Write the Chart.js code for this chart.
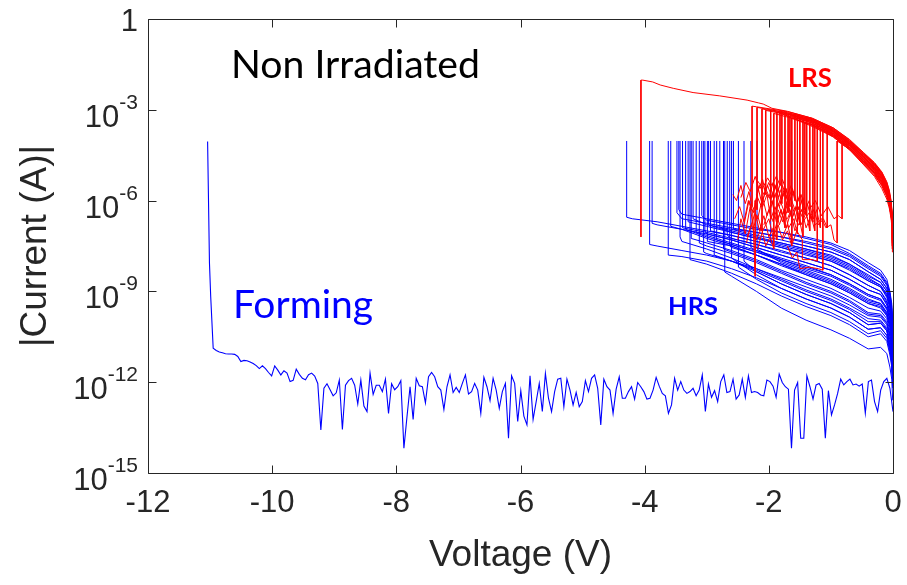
<!DOCTYPE html>
<html>
<head>
<meta charset="utf-8">
<script src="https://cdn.jsdelivr.net/npm/chart.js@4.4.1/dist/chart.umd.min.js"></script>
<style>
  html, body { margin: 0; padding: 0; background: #fff; }
  #wrap { width: 907px; height: 585px; }
</style>
</head>
<body>
<div id="wrap"><canvas id="chart" width="907" height="585"></canvas></div>
<script>
// all currents are stored as log10(|I|), voltages in V

// axis ticks
const xTicks = [-12, -10, -8, -6, -4, -2, 0];
const yTickExp = [0, -3, -6, -9, -12, -15];

// forming sweep: steep start, then a regular sweep grid from -10.95 V to 0 V
const formingHead = [[-11.04, -4.05], [-11.01, -8.06], [-10.99, -9.17]];
const formingStartV = -10.95;
const formingEndV = 0;
const formingLogI = [
  -10.88,-10.95,-11.00,-11.03,-11.06,-11.07,-11.07,-11.08,-11.15,-11.32,
  -11.28,-11.29,-11.33,-11.38,-11.45,-11.55,-11.46,-11.55,-11.68,-11.79,
  -11.46,-11.60,-11.76,-11.62,-11.70,-11.98,-11.94,-11.57,-11.74,-11.87,
  -11.92,-11.75,-11.70,-11.80,-12.04,-13.58,-12.20,-12.05,-12.25,-12.45,
  -12.35,-11.93,-13.56,-12.10,-11.95,-11.87,-12.10,-12.72,-11.93,-12.79,
  -12.97,-11.70,-12.40,-12.10,-12.10,-12.31,-11.90,-13.03,-12.05,-12.25,
  -12.15,-11.95,
  -14.18,-13.14,-12.15,-13.23,-11.87,-12.12,-12.15,-12.68,-11.82,-11.68,
  -11.82,-12.15,-12.26,-12.90,-12.15,-11.76,-12.34,-12.17,-12.34,-12.04,
  -11.76,-12.39,-12.31,-12.04,-12.26,-13.03,-11.84,-12.15,-12.61,-11.87,
  -12.26,-12.86,-12.31,-12.04,-13.85,-11.79,-12.04,-13.30,-12.28,-13.12,
  -13.41,-11.79,-13.23,-12.64,-12.04,-12.97,-11.71,-12.53,-12.97,-12.31,
  -11.90,-11.87,-12.81,-11.90,-12.26,-12.75,-12.34,-12.81,-12.64,-11.95,
  -12.31,-11.87,-11.76,-12.20,-13.41,
  -11.90,-12.15,-12.26,-13.03,-12.23,-11.82,-12.53,-12.53,-12.31,-12.15,
  -12.56,-12.01,-12.15,-12.31,-12.56,-12.53,-12.26,-11.84,-12.13,-12.37,
  -12.45,-13.03,-12.75,-11.87,-12.26,-11.98,-12.26,-12.37,-12.31,-12.20,
  -12.45,-12.26,-11.76,-12.97,-12.06,-12.50,-12.28,-12.64,-11.98,-11.76,
  -12.34,-12.31,-11.90,-12.56,-12.42,-11.90,-12.50,-11.79,-12.34,-12.31,
  -12.34,-12.42,-12.45,-11.93,-11.98,-12.13,-12.50,-11.73,-12.01,-12.15,
  -12.23,-14.18,-12.26,-12.01,-13.85,-13.85,-11.79,-12.15,-12.56,-12.09,
  -12.04,-12.23,-13.85,-12.28,-13.08,-12.75,-12.37,-11.90,-12.09,-11.98,
  -11.90,-12.09,-12.06,-12.13,-12.06,-13.03,-11.98,-11.93,-12.64,-12.97,
  -12.26,-11.98,-11.87,-12.20,-12.97
];

// HRS sweeps (0 V -> set voltage, then jump to compliance)
const complianceLog = -4.03;
const hrsGridV = [-0.005,-0.02,-0.05,-0.1,-0.2,-0.4,-0.7,-1.0,-1.4,-1.8,-2.2,-2.6,-3.0,-3.4,-3.8,-4.2];
const hrsSetV = [-4.29,-3.88,-3.58,-3.48,-3.43,-3.39,-3.34,-3.30,-3.25,-3.22,-3.17,-3.12,-3.08,-3.03,-2.99,
                 -2.94,-2.88,-2.84,-2.79,-2.73,-2.71,-2.67,-2.63,-2.57,-2.49,-2.29,-2.19,-1.97,-1.63,-2.40,
                 -3.92,-3.62,-3.27,-3.05,-2.60,-3.45,-2.97];
const hrsSetBottom = [-6.55,-6.75,-6.85,-6.4,-7.2,-6.9,-6.95,-6.7,-7.25,-6.6,-7.05,-7.4,-6.5,-7.0,-7.35,
                      -7.0,-7.8,-7.3,-6.9,-7.6,-8.36,-7.15,-7.5,-6.95,-8.2,-7.55,-7.6,-7.4,-7.4,-8.0,
                      -7.45,-7.8,-7.95,-7.7,-7.9,-6.3,-6.8];
const hrsLogI = [
  [-10.7,-10.0,-9.5,-9.15,-8.85,-8.65,-8.25,-8.0,-7.75,-7.55,-7.35,-7.15,-7.0,-6.85,-6.7,-6.6],
  [-11.0,-10.2,-9.8,-9.4,-9.1,-8.95,-8.6,-8.3,-8.05,-7.8,-7.55,-7.3,-7.1,-6.95,-6.8],
  [-11.3,-10.6,-10.15,-9.8,-9.55,-9.4,-9.05,-8.75,-8.45,-8.15,-7.8,-7.5,-7.25,-6.95],
  [-10.3,-9.6,-9.1,-8.75,-8.45,-8.2,-7.8,-7.55,-7.35,-7.2,-7.05,-6.9,-6.75,-6.6],
  [-11.7,-11.0,-10.6,-10.2,-9.95,-9.9,-9.55,-9.25,-8.95,-8.6,-8.25,-7.9,-7.6,-7.35],
  [-10.8,-10.1,-9.65,-9.3,-9.0,-8.8,-8.45,-8.15,-7.9,-7.7,-7.45,-7.25,-7.05],
  [-11.2,-10.5,-10.05,-9.7,-9.4,-9.25,-8.9,-8.6,-8.3,-8.0,-7.7,-7.45,-7.2],
  [-10.5,-9.8,-9.4,-9.0,-8.7,-8.5,-8.1,-7.85,-7.6,-7.4,-7.25,-7.05,-6.85],
  [-11.4,-10.7,-10.3,-9.9,-9.65,-9.55,-9.2,-8.9,-8.6,-8.3,-7.95,-7.65,-7.4],
  [-10.4,-9.7,-9.25,-8.9,-8.6,-8.35,-7.95,-7.7,-7.5,-7.3,-7.15,-6.95,-6.8],
  [-11.0,-10.3,-9.9,-9.55,-9.25,-9.1,-8.75,-8.45,-8.2,-7.95,-7.65,-7.4,-7.15],
  [-11.6,-10.9,-10.45,-10.05,-9.8,-9.75,-9.35,-9.05,-8.75,-8.4,-8.05,-7.75,-7.5],
  [-10.1,-9.4,-9.0,-8.6,-8.3,-8.05,-7.65,-7.4,-7.2,-7.05,-6.95,-6.8,-6.65],
  [-10.9,-10.2,-9.8,-9.45,-9.1,-8.95,-8.6,-8.3,-8.05,-7.8,-7.55,-7.3,-7.1],
  [-11.3,-10.6,-10.2,-9.8,-9.5,-9.4,-9.05,-8.75,-8.45,-8.1,-7.8,-7.5],
  [-10.7,-10.0,-9.55,-9.2,-8.85,-8.65,-8.3,-8.0,-7.8,-7.55,-7.35,-7.15],
  [-11.9,-11.2,-10.8,-10.3,-10.05,-10.1,-9.7,-9.4,-9.1,-8.75,-8.35,-8.0],
  [-11.1,-10.4,-9.95,-9.6,-9.3,-9.15,-8.8,-8.5,-8.25,-7.95,-7.7,-7.45],
  [-10.5,-9.8,-9.35,-9.0,-8.7,-8.45,-8.1,-7.8,-7.6,-7.4,-7.2,-7.0],
  [-11.5,-10.8,-10.4,-10.0,-9.75,-9.7,-9.3,-9.0,-8.7,-8.35,-8.0,-7.7],
  [-12.6,-11.9,-11.5,-11.05,-10.85,-10.9,-10.55,-10.27,-9.95,-9.55,-9.0,-8.5],
  [-10.8,-10.1,-9.7,-9.35,-9.0,-8.8,-8.45,-8.15,-7.9,-7.65,-7.45,-7.25],
  [-11.2,-10.5,-10.1,-9.75,-9.45,-9.35,-9.0,-8.7,-8.4,-8.1,-7.8,-7.55],
  [-10.3,-9.6,-9.15,-8.8,-8.5,-8.25,-7.85,-7.6,-7.4,-7.2,-7.05],
  [-12.1,-11.4,-11.0,-10.55,-10.3,-10.4,-10.0,-9.7,-9.4,-9.05,-8.6],
  [-11.0,-10.3,-9.9,-9.55,-9.25,-9.1,-8.75,-8.45,-8.15,-7.9,-7.65],
  [-11.2,-10.5,-10.05,-9.7,-9.4,-9.3,-8.95,-8.65,-8.35,-8.05],
  [-10.6,-9.9,-9.45,-9.1,-8.8,-8.6,-8.2,-7.95,-7.7,-7.5],
  [-10.4,-9.7,-9.25,-8.9,-8.6,-8.35,-7.95,-7.7,-7.5],
  [-11.9,-11.2,-10.8,-10.3,-10.05,-10.1,-9.7,-9.4,-9.1,-8.75,-8.35],
  [-11.6,-10.9,-10.5,-10.1,-9.85,-9.8,-9.45,-9.15,-8.85,-8.55,-8.25,-8.0,-7.8,-7.65,-7.5],
  [-12.0,-11.3,-10.9,-10.45,-10.2,-10.25,-9.85,-9.55,-9.25,-8.9,-8.55,-8.25,-8.0,-7.85],
  [-12.2,-11.5,-11.1,-10.65,-10.4,-10.5,-10.1,-9.8,-9.5,-9.15,-8.75,-8.4,-8.1],
  [-11.8,-11.1,-10.7,-10.25,-10.0,-10.0,-9.6,-9.3,-9.0,-8.65,-8.3,-8.0,-7.75],
  [-12.0,-11.3,-10.9,-10.45,-10.2,-10.25,-9.85,-9.55,-9.25,-8.9,-8.45],
  [-10.2,-9.5,-9.05,-8.7,-8.4,-8.15,-7.75,-7.45,-7.25,-7.05,-6.9,-6.75,-6.6,-6.45],
  [-10.6,-9.9,-9.45,-9.1,-8.8,-8.55,-8.15,-7.9,-7.65,-7.45,-7.25,-7.05]
];

// LRS sweeps (0 V -> reset voltage, drop, then noisy trail)
const lrsGridV = [-0.003,-0.01,-0.03,-0.06,-0.1,-0.18,-0.3,-0.48,-0.7,-0.96,-1.3,-1.7,-2.2];
const lrsResetV = [-2.19,-2.11,-1.97,-1.87,-1.79,-1.74,-1.69,-1.63,-1.58,-1.50,-1.45,-1.39,-1.34,-1.29,-1.22,-1.17,-1.13,-0.90,-0.82,
                   -2.27,-2.05,-1.92,-1.82,-1.66,-1.54,-1.42,-1.26,-1.06];
const lrsTopLog = [-2.92,-2.97,-3.0,-3.08,-3.03,-3.15,-3.14,-3.27,-3.14,-3.25,-3.32,-3.24,-3.45,-3.38,-3.47,-3.62,-3.5,-4.03,-4.03,
                   -2.88,-3.02,-3.12,-3.08,-3.2,-3.22,-3.42,-3.48,-3.7];
const lrsBottomLog = [-6.3,-7.0,-6.6,-7.3,-6.1,-6.9,-6.4,-7.5,-6.0,-6.8,-7.2,-6.5,-7.0,-6.6,-8.0,-6.9,-8.3,-7.4,-6.6,
                      -6.2,-5.8,-7.6,-5.5,-6.2,-7.1,-6.3,-7.0,-6.9];
const lrsLogI = [
  [-7.2,-6.6,-6.1,-5.75,-5.45,-5.1,-4.8,-4.46,-4.05,-3.65,-3.32,-3.1],
  [-7.3,-6.7,-6.2,-5.85,-5.55,-5.2,-4.88,-4.55,-4.12,-3.72,-3.38,-3.14],
  [-7.25,-6.65,-6.15,-5.8,-5.5,-5.15,-4.83,-4.5,-4.08,-3.68,-3.35,-3.12],
  [-7.4,-6.8,-6.3,-5.95,-5.65,-5.3,-4.97,-4.62,-4.18,-3.78,-3.44,-3.2],
  [-7.2,-6.6,-6.1,-5.75,-5.45,-5.12,-4.8,-4.46,-4.04,-3.64,-3.31,-3.09],
  [-7.5,-6.9,-6.4,-6.05,-5.75,-5.4,-5.05,-4.7,-4.25,-3.83,-3.48,-3.22],
  [-7.3,-6.7,-6.2,-5.85,-5.55,-5.2,-4.9,-4.55,-4.12,-3.7,-3.37],
  [-7.6,-7.0,-6.5,-6.15,-5.85,-5.5,-5.15,-4.78,-4.32,-3.9,-3.55],
  [-7.25,-6.65,-6.15,-5.8,-5.5,-5.15,-4.83,-4.48,-4.06,-3.66,-3.33],
  [-7.35,-6.75,-6.25,-5.9,-5.6,-5.25,-4.93,-4.58,-4.14,-3.74,-3.4],
  [-7.45,-6.85,-6.35,-6.0,-5.7,-5.35,-5.0,-4.65,-4.2,-3.8,-3.45],
  [-7.2,-6.6,-6.1,-5.75,-5.45,-5.1,-4.78,-4.44,-4.02,-3.62,-3.3],
  [-7.5,-6.9,-6.4,-6.05,-5.75,-5.4,-5.07,-4.72,-4.27,-3.86,-3.5],
  [-7.3,-6.7,-6.2,-5.85,-5.55,-5.2,-4.88,-4.53,-4.1,-3.7],
  [-7.4,-6.8,-6.3,-5.95,-5.65,-5.3,-4.97,-4.62,-4.18,-3.78],
  [-7.6,-7.0,-6.5,-6.15,-5.85,-5.5,-5.15,-4.78,-4.32,-3.9],
  [-7.35,-6.75,-6.25,-5.9,-5.6,-5.25,-4.93,-4.58,-4.14,-3.74],
  [-7.7,-7.1,-6.6,-6.25,-5.95,-5.6,-5.2,-4.8,-4.3],
  [-7.6,-7.0,-6.5,-6.15,-5.85,-5.5,-5.1,-4.7,-4.25],
  [-7.15,-6.55,-6.05,-5.7,-5.4,-5.07,-4.76,-4.42,-4.0,-3.6,-3.28,-3.06,-2.9],
  [-7.35,-6.75,-6.25,-5.9,-5.6,-5.25,-4.92,-4.58,-4.15,-3.74,-3.4,-3.16],
  [-7.5,-6.9,-6.4,-6.05,-5.75,-5.4,-5.05,-4.7,-4.25,-3.84,-3.5,-3.24],
  [-7.3,-6.7,-6.2,-5.85,-5.55,-5.2,-4.88,-4.53,-4.1,-3.7,-3.36,-3.13],
  [-7.4,-6.8,-6.3,-5.95,-5.65,-5.3,-4.98,-4.63,-4.18,-3.78,-3.43],
  [-7.3,-6.7,-6.2,-5.85,-5.55,-5.2,-4.88,-4.53,-4.1,-3.7,-3.36],
  [-7.55,-6.95,-6.45,-6.1,-5.8,-5.45,-5.1,-4.75,-4.3,-3.88,-3.52],
  [-7.45,-6.85,-6.35,-6.0,-5.7,-5.35,-5.02,-4.67,-4.22,-3.82],
  [-7.5,-6.9,-6.4,-6.05,-5.75,-5.4,-5.07,-4.72,-4.27,-3.85]
];
const lrsTrail = [
  [[-2.22,-6.0],[-2.22,-8.5],[-2.26,-6.4],[-2.33,-6.0],[-2.4,-6.7],[-2.47,-6.2],[-2.55,-6.6]],
  [[-2.18,-6.5],[-2.25,-6.9],[-2.3,-6.2],[-2.38,-7.1],[-2.45,-6.6],[-2.5,-7.3]],
  [[-2.03,-5.8],[-2.1,-6.2],[-2.17,-5.6],[-2.25,-6.4],[-2.32,-6.0],[-2.4,-6.8]],
  [[-1.93,-6.9],[-2.0,-7.2],[-2.08,-6.5],[-2.15,-7.0],[-2.22,-6.4],[-2.3,-6.9],[-2.36,-7.4]],
  [[-1.85,-5.6],[-1.92,-5.9],[-2.0,-5.4],[-2.08,-5.8],[-2.15,-5.5],[-2.22,-6.1]],
  [[-1.8,-6.3],[-1.88,-6.7],[-1.95,-6.0],[-2.03,-6.5],[-2.1,-5.9],[-2.18,-6.6],[-2.26,-6.2]],
  [[-1.75,-5.7],[-1.82,-6.1],[-1.9,-5.5],[-1.97,-6.0],[-2.05,-5.6],[-2.12,-6.2],[-2.2,-5.8]],
  [[-1.7,-7.0],[-1.78,-7.3],[-1.85,-6.8],[-1.93,-7.2],[-2.0,-6.6],[-2.1,-7.0],[-2.18,-7.6]],
  [[-1.64,-5.5],[-1.7,-5.8],[-1.78,-5.3],[-1.86,-5.7],[-1.93,-5.4],[-2.0,-5.9],[-2.08,-5.6]],
  [[-1.56,-6.2],[-1.63,-6.6],[-1.7,-6.0],[-1.78,-6.5],[-1.85,-6.1],[-1.93,-6.7],[-2.0,-6.3],[-2.08,-6.8]],
  [[-1.5,-6.7],[-1.58,-7.0],[-1.65,-6.4],[-1.72,-6.9],[-1.8,-6.3],[-1.88,-6.8],[-1.95,-7.3]],
  [[-1.45,-5.9],[-1.52,-6.3],[-1.6,-5.7],[-1.68,-6.1],[-1.75,-5.6],[-1.83,-6.2],[-1.9,-5.8],[-1.98,-6.3]],
  [[-1.4,-6.4],[-1.48,-6.8],[-1.55,-6.2],[-1.63,-6.6],[-1.7,-6.1],[-1.78,-6.7],[-1.85,-6.3]],
  [[-1.35,-6.0],[-1.43,-6.4],[-1.5,-5.8],[-1.58,-6.3],[-1.65,-5.9],[-1.73,-6.5],[-1.8,-6.1]],
  [[-1.3,-7.95],[-1.45,-7.95],[-1.46,-7.3],[-1.55,-7.0],[-1.62,-7.4],[-1.7,-6.8],[-1.78,-7.2]],
  [[-1.23,-6.3],[-1.3,-6.7],[-1.38,-6.1],[-1.45,-6.6],[-1.53,-6.2],[-1.6,-6.8]],
  [[-1.2,-8.25],[-1.35,-8.2],[-1.5,-8.25],[-1.55,-7.7],[-1.62,-7.9],[-1.7,-7.5]],
  [[-0.95,-7.3],[-1.0,-6.8],[-1.08,-6.9],[-1.15,-6.6],[-1.25,-6.8],[-1.35,-6.4],[-1.45,-6.7]],
  [[-0.88,-6.5],[-0.95,-6.6],[-1.05,-6.2],[-1.15,-6.5],[-1.25,-6.0],[-1.35,-6.3]],
  [[-2.32,-5.7],[-2.38,-6.1],[-2.45,-5.5],[-2.52,-6.0],[-2.58,-5.8]],
  [[-2.1,-5.3],[-2.16,-5.6],[-2.22,-5.2],[-2.3,-5.7],[-2.37,-5.4],[-2.45,-5.9]],
  [[-1.98,-7.2],[-2.05,-7.5],[-2.12,-6.9],[-2.2,-7.3],[-2.28,-6.8],[-2.35,-7.2]],
  [[-1.88,-5.2],[-1.95,-5.5],[-2.02,-5.25],[-2.1,-5.6],[-2.18,-5.35]],
  [[-1.72,-5.6],[-1.8,-6.0],[-1.87,-5.4],[-1.95,-5.9],[-2.02,-5.5],[-2.1,-6.0]],
  [[-1.6,-6.6],[-1.68,-6.9],[-1.75,-6.3],[-1.83,-6.8],[-1.9,-6.2],[-1.98,-6.7]],
  [[-1.48,-5.8],[-1.55,-6.1],[-1.62,-5.6],[-1.7,-6.0],[-1.78,-5.5],[-1.85,-5.9]],
  [[-1.32,-6.5],[-1.4,-6.9],[-1.47,-6.3],[-1.55,-6.7],[-1.62,-6.2],[-1.7,-6.6]],
  [[-1.12,-6.6],[-1.2,-6.8],[-1.28,-6.3],[-1.36,-6.7],[-1.44,-6.2],[-1.52,-6.5]]
];
// the one LRS sweep that reaches -4 V
const lrsLong = [[-0.003,-7.1],[-0.01,-6.5],[-0.03,-6.0],[-0.06,-5.65],[-0.1,-5.38],[-0.18,-5.05],
  [-0.3,-4.74],[-0.48,-4.4],[-0.7,-3.98],[-0.96,-3.6],[-1.3,-3.28],[-1.7,-3.05],[-1.95,-2.95],
  [-2.09,-2.81],[-2.17,-2.77],[-2.35,-2.68],[-2.79,-2.54],[-3.22,-2.43],[-3.54,-2.29],[-3.75,-2.18],
  [-3.87,-2.08],[-4.03,-2.02],[-4.06,-2.02],[-4.06,-7.2]];

const BLUE = '#0000ff';
const RED = '#ff0000';

function toPoints(pairs) {
  return pairs.map(p => ({ x: p[0], y: Math.pow(10, p[1]) }));
}

const datasets = [];

// forming curve
const formingPairs = formingHead.slice();
const fStep = (formingEndV - formingStartV) / (formingLogI.length - 1);
formingLogI.forEach((l, i) => formingPairs.push([formingStartV + i * fStep, l]));
datasets.push({ data: toPoints(formingPairs), borderColor: BLUE, borderWidth: 1.1, order: 3 });

// HRS
hrsLogI.forEach((vals, i) => {
  const pairs = vals.map((l, k) => [hrsGridV[k], l]);
  pairs.push([hrsSetV[i], hrsSetBottom[i]], [hrsSetV[i], complianceLog]);
  datasets.push({ data: toPoints(pairs), borderColor: BLUE, borderWidth: 1, order: 2 });
});

// LRS
lrsLogI.forEach((vals, i) => {
  const pairs = vals.map((l, k) => [lrsGridV[k], l]);
  pairs.push([lrsResetV[i], lrsTopLog[i]], [lrsResetV[i], lrsBottomLog[i]]);
  lrsTrail[i].forEach(p => pairs.push(p));
  datasets.push({ data: toPoints(pairs), borderColor: RED, borderWidth: 1, order: 1 });
});
datasets.push({ data: toPoints(lrsLong), borderColor: RED, borderWidth: 1, order: 1 });

function fitFont(ctx, text, weight, family, width) {
  ctx.font = weight + ' 40px ' + family;
  const w = ctx.measureText(text).width;
  return weight + ' ' + (40 * width / w).toFixed(1) + 'px ' + family;
}

const matlabAxes = {
  id: 'matlabAxes',
  afterDraw(chart) {
    const ctx = chart.ctx;
    const a = chart.chartArea;
    const xs = chart.scales.x, ys = chart.scales.y;
    const L = Math.round(a.left) + 0.5, R = Math.round(a.right) + 0.5;
    const T = Math.round(a.top) + 0.5, B = Math.round(a.bottom) + 0.5;
    const tl = 8;
    ctx.save();
    ctx.strokeStyle = '#262626';
    ctx.lineWidth = 1;
    ctx.beginPath();
    ctx.rect(L, T, R - L, B - T);
    xTicks.forEach(v => {
      const px = Math.round(xs.getPixelForValue(v)) + 0.5;
      ctx.moveTo(px, B); ctx.lineTo(px, B - tl);
      ctx.moveTo(px, T); ctx.lineTo(px, T + tl);
    });
    yTickExp.forEach(e => {
      const py = Math.round(ys.getPixelForValue(Math.pow(10, e))) + 0.5;
      ctx.moveTo(L, py); ctx.lineTo(L + tl, py);
      ctx.moveTo(R, py); ctx.lineTo(R - tl, py);
    });
    ctx.stroke();

    ctx.fillStyle = '#262626';
    // x tick labels
    ctx.font = '31px "Liberation Sans", Arial, sans-serif';
    ctx.textAlign = 'center';
    ctx.textBaseline = 'alphabetic';
    xTicks.forEach(v => {
      ctx.fillText(String(v), xs.getPixelForValue(v), 512);
    });
    // y tick labels, 10 with raised exponent
    const right = a.left - 10;
    yTickExp.forEach(e => {
      const py = ys.getPixelForValue(Math.pow(10, e));
      ctx.textAlign = 'right';
      if (e === 0) {
        ctx.font = '31px "Liberation Sans", Arial, sans-serif';
        ctx.fillText('1', right, py + 12);
        return;
      }
      const expText = String(e);
      ctx.font = '21px "Liberation Sans", Arial, sans-serif';
      const ew = ctx.measureText(expText).width;
      ctx.fillText(expText, right, py - 1);
      ctx.font = '31px "Liberation Sans", Arial, sans-serif';
      ctx.fillText('10', right - ew, py + 17);
    });
    // axis titles
    ctx.font = '37px "Liberation Sans", Arial, sans-serif';
    ctx.textAlign = 'center';
    ctx.fillText('Voltage (V)', (a.left + a.right) / 2, 566);
    ctx.save();
    ctx.translate(46, (a.top + a.bottom) / 2);
    ctx.rotate(-Math.PI / 2);
    ctx.fillText('|Current (A)|', 0, 0);
    ctx.restore();

    // annotations
    ctx.textAlign = 'left';
    ctx.fillStyle = '#000000';
    ctx.font = fitFont(ctx, 'Non Irradiated', 'normal', 'Lato', 249);
    ctx.fillText('Non Irradiated', 231, 78);
    ctx.fillStyle = BLUE;
    ctx.font = fitFont(ctx, 'Forming', 'normal', 'Lato', 140);
    ctx.fillText('Forming', 233, 318);
    ctx.font = fitFont(ctx, 'HRS', 'bold', 'Lato', 50);
    ctx.fillText('HRS', 668, 315);
    ctx.fillStyle = RED;
    ctx.font = fitFont(ctx, 'LRS', 'bold', 'Lato', 44);
    ctx.fillText('LRS', 788, 87);
    ctx.restore();
  }
};

new Chart(document.getElementById('chart').getContext('2d'), {
  type: 'line',
  data: { datasets: datasets },
  options: {
    responsive: false,
    animation: false,
    layout: { padding: { left: 148, right: 14, top: 19, bottom: 112 } },
    elements: { point: { radius: 0 }, line: { tension: 0, fill: false } },
    plugins: { legend: { display: false }, tooltip: { enabled: false } },
    scales: {
      x: { type: 'linear', min: -12, max: 0, display: false },
      y: { type: 'logarithmic', min: 1e-15, max: 1, display: false }
    }
  },
  plugins: [matlabAxes]
});
</script>
</body>
</html>
